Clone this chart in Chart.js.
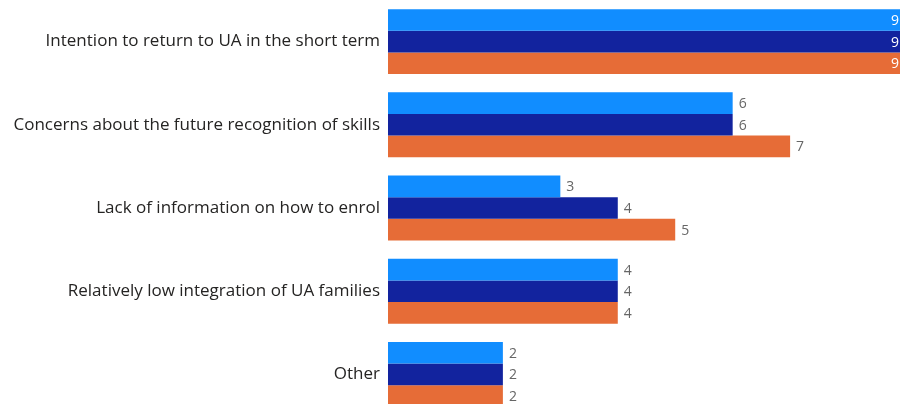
<!DOCTYPE html>
<html>
<head>
<meta charset="utf-8">
<script src="https://cdn.jsdelivr.net/npm/chart.js@4/dist/chart.umd.min.js"></script>
<style>
  html, body { margin: 0; padding: 0; background: #fff; overflow: hidden; width: 900px; height: 404px; }
  #chart { position: absolute; left: 0; top: 0; }
</style>
</head>
<body>
<canvas id="chart" width="905" height="416"></canvas>
<script>
const categories = [
    'Intention to return to UA in the short term',
    'Concerns about the future recognition of skills',
    'Lack of information on how to enrol',
    'Relatively low integration of UA families',
    'Other',
];
const seriesA = [9, 6, 3, 4, 2];
const seriesB = [9, 6, 4, 4, 2];
const seriesC = [9, 7, 5, 4, 2];

// value labels: outside the bar end in grey, inside in white when there is no room
const valueLabels = {
    id: 'valueLabels',
    afterDatasetsDraw(chart) {
        const ctx = chart.ctx;
        const area = chart.chartArea;
        ctx.save();
        ctx.font = '14px "Open Sans", sans-serif';
        ctx.textBaseline = 'middle';
        chart.data.datasets.forEach((ds, i) => {
            chart.getDatasetMeta(i).data.forEach((bar, j) => {
                const text = String(ds.data[j]);
                const w = ctx.measureText(text).width;
                if (bar.x + 5 + w > area.right) {
                    ctx.fillStyle = '#ffffff';
                    ctx.textAlign = 'right';
                    ctx.fillText(text, bar.x - 6, bar.y + 1);
                } else {
                    ctx.fillStyle = '#666666';
                    ctx.textAlign = 'left';
                    ctx.fillText(text, bar.x + 6, bar.y + 1);
                }
            });
        });
        ctx.restore();
    }
};

new Chart(document.getElementById('chart'), {
    type: 'bar',
    data: {
        labels: categories,
        datasets: [
            { label: 'A', data: seriesA, backgroundColor: '#118DFF' },
            { label: 'B', data: seriesB, backgroundColor: '#12239E' },
            { label: 'C', data: seriesC, backgroundColor: '#E66C37' },
        ]
    },
    options: {
        indexAxis: 'y',
        responsive: false,
        animation: false,
        layout: { padding: 0, autoPadding: false },
        datasets: {
            bar: { categoryPercentage: 0.78, barPercentage: 1.0, borderWidth: 0 }
        },
        plugins: {
            legend: { display: false },
            tooltip: { enabled: false },
        },
        scales: {
            x: { display: false, min: 0, max: 9 },
            y: {
                grid: { display: false, drawTicks: false },
                border: { display: false },
                ticks: {
                    padding: 8,
                    color: '#252423',
                    font: { family: '"Open Sans", sans-serif', size: 17 },
                },
                afterFit(scale) {
                    scale.width = 388;
                    scale.paddingTop = 0;
                    scale.paddingBottom = 0;
                },
            }
        }
    },
    plugins: [valueLabels]
});
</script>
</body>
</html>
